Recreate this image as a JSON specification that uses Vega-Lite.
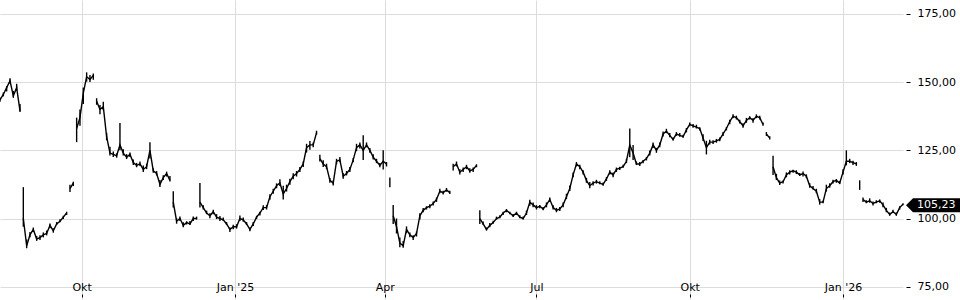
{
"$schema": "https://vega.github.io/schema/vega-lite/v6.json",
"width": 903, "height": 300,
"autosize": {"type": "none"},
"padding": {"left": 0, "top": 0, "right": 57, "bottom": 0},
"background": "white",
"config": {"view": {"stroke": null}, "font": "DejaVu Sans"},
"datasets": {
"px": [
{"d":"2024-08-13","lo":142.8,"hi":144.4,"c":143.5},
{"d":"2024-08-15","lo":144.8,"hi":146.2,"c":145.5},
{"d":"2024-08-17","lo":146.6,"hi":148.5,"c":148},
{"d":"2024-08-19","lo":149.4,"hi":151.4,"c":150.5},
{"d":"2024-08-21","lo":144.3,"hi":146.8,"c":145},
{"d":"2024-08-23","lo":147.1,"hi":149.4,"c":148},
{"d":"2024-08-25","lo":139.1,"hi":142,"c":139.5},
{"d":"2024-08-26"},
{"d":"2024-08-27","lo":97,"hi":111.5,"c":100},
{"d":"2024-08-29","lo":89.1,"hi":92.3,"c":90},
{"d":"2024-08-31","lo":93.1,"hi":95.1,"c":94},
{"d":"2024-09-02","lo":95.1,"hi":96.7,"c":96},
{"d":"2024-09-04","lo":91.8,"hi":93.6,"c":92.5},
{"d":"2024-09-06","lo":92.1,"hi":93.9,"c":93},
{"d":"2024-09-08","lo":93.1,"hi":94.9,"c":94},
{"d":"2024-09-10","lo":93.8,"hi":95.6,"c":94.5},
{"d":"2024-09-12","lo":96.4,"hi":98.2,"c":97.5},
{"d":"2024-09-14","lo":94.8,"hi":96.4,"c":95.5},
{"d":"2024-09-16","lo":97.6,"hi":98.7,"c":98},
{"d":"2024-09-18","lo":98.6,"hi":99.7,"c":99},
{"d":"2024-09-20","lo":99.8,"hi":101,"c":100.5},
{"d":"2024-09-22","lo":101.3,"hi":102.5,"c":102},
{"d":"2024-09-23"},
{"d":"2024-09-24","lo":109.7,"hi":112.4,"c":111},
{"d":"2024-09-26","lo":111.9,"hi":113.5,"c":113},
{"d":"2024-09-27"},
{"d":"2024-09-28","lo":128,"hi":137,"c":133},
{"d":"2024-09-30","lo":134,"hi":140,"c":137},
{"d":"2024-10-02","lo":142,"hi":148,"c":146},
{"d":"2024-10-04","lo":150.2,"hi":153.6,"c":152},
{"d":"2024-10-06","lo":150.1,"hi":152.6,"c":151},
{"d":"2024-10-08","lo":150.9,"hi":153.2,"c":152.5},
{"d":"2024-10-09"},
{"d":"2024-10-10","lo":141.7,"hi":144.1,"c":143},
{"d":"2024-10-12","lo":138.2,"hi":141.6,"c":140},
{"d":"2024-10-14","lo":139.7,"hi":142.8,"c":141},
{"d":"2024-10-16","lo":128.7,"hi":131.4,"c":130},
{"d":"2024-10-18","lo":123.1,"hi":126.3,"c":124},
{"d":"2024-10-20","lo":122.6,"hi":124.6,"c":123.5},
{"d":"2024-10-22","lo":122.3,"hi":123.9,"c":123},
{"d":"2024-10-24","lo":125,"hi":135,"c":127},
{"d":"2024-10-26","lo":123.1,"hi":125.4,"c":124},
{"d":"2024-10-28","lo":121.8,"hi":123.6,"c":122.5},
{"d":"2024-10-30","lo":122.6,"hi":124.2,"c":123.5},
{"d":"2024-11-01","lo":119.6,"hi":121.6,"c":120.5},
{"d":"2024-11-03","lo":118.8,"hi":120.4,"c":119.5},
{"d":"2024-11-05","lo":119.3,"hi":120.9,"c":120},
{"d":"2024-11-07","lo":117.1,"hi":119.4,"c":118},
{"d":"2024-11-09","lo":118.1,"hi":120.1,"c":119},
{"d":"2024-11-11","lo":122,"hi":128,"c":125},
{"d":"2024-11-13","lo":116.8,"hi":118.4,"c":117.5},
{"d":"2024-11-15","lo":115.8,"hi":117.4,"c":116.5},
{"d":"2024-11-17","lo":111.6,"hi":114.1,"c":112.5},
{"d":"2024-11-19","lo":114.1,"hi":115.9,"c":115},
{"d":"2024-11-21","lo":115.4,"hi":117.2,"c":116.5},
{"d":"2024-11-23","lo":113.6,"hi":115.6,"c":114},
{"d":"2024-11-24"},
{"d":"2024-11-25","lo":104,"hi":110,"c":106},
{"d":"2024-11-27","lo":98.1,"hi":100.1,"c":99},
{"d":"2024-11-29","lo":99.1,"hi":100.7,"c":100},
{"d":"2024-12-01","lo":96.8,"hi":98.6,"c":97.5},
{"d":"2024-12-03","lo":97.8,"hi":99,"c":98.5},
{"d":"2024-12-05","lo":97.6,"hi":99.1,"c":98},
{"d":"2024-12-07","lo":99.1,"hi":100.7,"c":100},
{"d":"2024-12-09","lo":99.6,"hi":100.7,"c":100},
{"d":"2024-12-10"},
{"d":"2024-12-11","lo":104,"hi":113,"c":106},
{"d":"2024-12-13","lo":103.3,"hi":104.9,"c":104},
{"d":"2024-12-15","lo":101.6,"hi":102.9,"c":102},
{"d":"2024-12-17","lo":100.1,"hi":101.9,"c":101},
{"d":"2024-12-19","lo":101.6,"hi":103.2,"c":102.5},
{"d":"2024-12-21","lo":99.8,"hi":101.6,"c":100.5},
{"d":"2024-12-23","lo":99.1,"hi":100.9,"c":100},
{"d":"2024-12-25","lo":99.1,"hi":100.4,"c":99.5},
{"d":"2024-12-27","lo":97.6,"hi":98.7,"c":98},
{"d":"2024-12-29","lo":95.1,"hi":96.7,"c":96},
{"d":"2024-12-31","lo":96.1,"hi":97.7,"c":97},
{"d":"2025-01-02","lo":96.3,"hi":97.9,"c":97},
{"d":"2025-01-04","lo":99.1,"hi":101.1,"c":100},
{"d":"2025-01-06","lo":98.8,"hi":100.4,"c":99.5},
{"d":"2025-01-08","lo":97.6,"hi":98.7,"c":98},
{"d":"2025-01-10","lo":95.3,"hi":96.7,"c":96},
{"d":"2025-01-12","lo":97.3,"hi":98.7,"c":98},
{"d":"2025-01-14","lo":99.8,"hi":101,"c":100.5},
{"d":"2025-01-16","lo":101.1,"hi":102.5,"c":102},
{"d":"2025-01-18","lo":103.1,"hi":104.9,"c":104},
{"d":"2025-01-20","lo":103.3,"hi":104.9,"c":104},
{"d":"2025-01-22","lo":106.9,"hi":108.9,"c":108},
{"d":"2025-01-24","lo":109.1,"hi":110.9,"c":110},
{"d":"2025-01-26","lo":111.1,"hi":112.9,"c":112},
{"d":"2025-01-28","lo":111.9,"hi":114.4,"c":113},
{"d":"2025-01-30","lo":107,"hi":112,"c":109},
{"d":"2025-02-01","lo":109.9,"hi":112.4,"c":111},
{"d":"2025-02-03","lo":112.4,"hi":114.6,"c":113.5},
{"d":"2025-02-05","lo":114.4,"hi":116.6,"c":115.5},
{"d":"2025-02-07","lo":115.4,"hi":117.4,"c":116.5},
{"d":"2025-02-09","lo":117.1,"hi":118.9,"c":118},
{"d":"2025-02-11","lo":118.9,"hi":120.9,"c":120},
{"d":"2025-02-13","lo":124.2,"hi":127.4,"c":126},
{"d":"2025-02-15","lo":125.2,"hi":128.4,"c":127},
{"d":"2025-02-17","lo":126.1,"hi":127.9,"c":127},
{"d":"2025-02-19","lo":130.8,"hi":132.2,"c":131.5},
{"d":"2025-02-20"},
{"d":"2025-02-21","lo":120.9,"hi":123.4,"c":122},
{"d":"2025-02-23","lo":118.9,"hi":121.4,"c":120},
{"d":"2025-02-25","lo":118.1,"hi":120.1,"c":119},
{"d":"2025-02-27","lo":113.1,"hi":114.9,"c":114},
{"d":"2025-03-01","lo":112.1,"hi":113.9,"c":113},
{"d":"2025-03-03","lo":119.9,"hi":121.9,"c":121},
{"d":"2025-03-05","lo":120.6,"hi":122.6,"c":121.5},
{"d":"2025-03-07","lo":114.6,"hi":116.6,"c":115.5},
{"d":"2025-03-09","lo":115.8,"hi":117.4,"c":116.5},
{"d":"2025-03-11","lo":117.1,"hi":118.9,"c":118},
{"d":"2025-03-13","lo":120.6,"hi":122.2,"c":121.5},
{"d":"2025-03-15","lo":124.7,"hi":127.4,"c":126},
{"d":"2025-03-17","lo":125.7,"hi":127.9,"c":127},
{"d":"2025-03-19","lo":121.5,"hi":130.5,"c":125},
{"d":"2025-03-21","lo":126.1,"hi":127.9,"c":127},
{"d":"2025-03-23","lo":124.1,"hi":125.9,"c":125},
{"d":"2025-03-25","lo":121.6,"hi":123.6,"c":122.5},
{"d":"2025-03-27","lo":120.3,"hi":121.9,"c":121},
{"d":"2025-03-29","lo":118.8,"hi":120.4,"c":119.5},
{"d":"2025-03-31","lo":118,"hi":125,"c":121},
{"d":"2025-04-02","lo":119.1,"hi":120.7,"c":120},
{"d":"2025-04-03"},
{"d":"2025-04-04","lo":111.5,"hi":115,"c":113},
{"d":"2025-04-05"},
{"d":"2025-04-06","lo":98,"hi":105,"c":101},
{"d":"2025-04-08","lo":94.5,"hi":100,"c":97},
{"d":"2025-04-10","lo":89.5,"hi":93,"c":91},
{"d":"2025-04-12","lo":89.3,"hi":91.8,"c":90},
{"d":"2025-04-14","lo":94.6,"hi":97.1,"c":96},
{"d":"2025-04-16","lo":93.1,"hi":94.9,"c":94},
{"d":"2025-04-18","lo":92.1,"hi":93.9,"c":93},
{"d":"2025-04-20","lo":93.4,"hi":95.2,"c":94.5},
{"d":"2025-04-22","lo":99.6,"hi":101.9,"c":101},
{"d":"2025-04-24","lo":102.3,"hi":103.9,"c":103},
{"d":"2025-04-26","lo":103.3,"hi":104.5,"c":104},
{"d":"2025-04-28","lo":103.8,"hi":105.2,"c":104.5},
{"d":"2025-04-30","lo":104.8,"hi":106.2,"c":105.5},
{"d":"2025-05-02","lo":106.1,"hi":107.7,"c":107},
{"d":"2025-05-04","lo":109.3,"hi":110.9,"c":110},
{"d":"2025-05-06","lo":108.8,"hi":110.2,"c":109.5},
{"d":"2025-05-08","lo":109.8,"hi":111.2,"c":110.5},
{"d":"2025-05-10","lo":109,"hi":110.2,"c":109.5},
{"d":"2025-05-11"},
{"d":"2025-05-12","lo":117.6,"hi":120.1,"c":119},
{"d":"2025-05-14","lo":119.1,"hi":120.9,"c":120},
{"d":"2025-05-16","lo":116.1,"hi":118.1,"c":117},
{"d":"2025-05-18","lo":117.1,"hi":118.7,"c":118},
{"d":"2025-05-20","lo":118.1,"hi":119.7,"c":119},
{"d":"2025-05-22","lo":116.8,"hi":118.4,"c":117.5},
{"d":"2025-05-24","lo":117.1,"hi":118.7,"c":118},
{"d":"2025-05-26","lo":118.8,"hi":119.9,"c":119.5},
{"d":"2025-05-27"},
{"d":"2025-05-28","lo":98,"hi":103,"c":100},
{"d":"2025-05-30","lo":97.6,"hi":98.9,"c":98},
{"d":"2025-06-01","lo":95.6,"hi":96.7,"c":96},
{"d":"2025-06-03","lo":96.8,"hi":98.4,"c":97.5},
{"d":"2025-06-05","lo":98.1,"hi":99.2,"c":98.5},
{"d":"2025-06-07","lo":99.6,"hi":100.7,"c":100},
{"d":"2025-06-09","lo":100.1,"hi":101.2,"c":100.5},
{"d":"2025-06-11","lo":101.3,"hi":102.5,"c":102},
{"d":"2025-06-13","lo":102.3,"hi":103.5,"c":103},
{"d":"2025-06-15","lo":101.6,"hi":102.5,"c":102},
{"d":"2025-06-17","lo":100.6,"hi":101.7,"c":101},
{"d":"2025-06-19","lo":101.3,"hi":102.5,"c":102},
{"d":"2025-06-21","lo":100.1,"hi":101.2,"c":100.5},
{"d":"2025-06-23","lo":99.6,"hi":100.7,"c":100},
{"d":"2025-06-25","lo":101.3,"hi":102.9,"c":102},
{"d":"2025-06-27","lo":104.7,"hi":106.9,"c":106},
{"d":"2025-06-29","lo":104.1,"hi":105.9,"c":105},
{"d":"2025-07-01","lo":103.3,"hi":104.9,"c":104},
{"d":"2025-07-03","lo":103.8,"hi":105,"c":104.5},
{"d":"2025-07-05","lo":103,"hi":104.2,"c":103.5},
{"d":"2025-07-07","lo":104.1,"hi":105.9,"c":105},
{"d":"2025-07-09","lo":106.1,"hi":107.7,"c":107},
{"d":"2025-07-11","lo":103.3,"hi":104.9,"c":104},
{"d":"2025-07-13","lo":102.3,"hi":103.9,"c":103},
{"d":"2025-07-15","lo":102.8,"hi":104.2,"c":103.5},
{"d":"2025-07-17","lo":104.1,"hi":105.9,"c":105},
{"d":"2025-07-19","lo":107.1,"hi":109.1,"c":108},
{"d":"2025-07-21","lo":110.1,"hi":112.1,"c":111},
{"d":"2025-07-23","lo":115.1,"hi":116.9,"c":116},
{"d":"2025-07-25","lo":119.1,"hi":120.7,"c":120},
{"d":"2025-07-27","lo":118.1,"hi":119.7,"c":119},
{"d":"2025-07-29","lo":116.1,"hi":117.7,"c":117},
{"d":"2025-07-31","lo":113.1,"hi":114.9,"c":114},
{"d":"2025-08-02","lo":111.1,"hi":113.4,"c":112},
{"d":"2025-08-04","lo":112.1,"hi":113.7,"c":113},
{"d":"2025-08-06","lo":112.8,"hi":114.2,"c":113.5},
{"d":"2025-08-08","lo":112.6,"hi":113.7,"c":113},
{"d":"2025-08-10","lo":112,"hi":113.2,"c":112.5},
{"d":"2025-08-12","lo":113.8,"hi":115.2,"c":114.5},
{"d":"2025-08-14","lo":116.1,"hi":117.7,"c":117},
{"d":"2025-08-16","lo":115.1,"hi":116.9,"c":116},
{"d":"2025-08-18","lo":117.1,"hi":118.7,"c":118},
{"d":"2025-08-20","lo":117.8,"hi":119,"c":118.5},
{"d":"2025-08-22","lo":118.6,"hi":119.7,"c":119},
{"d":"2025-08-24","lo":120.3,"hi":121.9,"c":121},
{"d":"2025-08-26","lo":122.5,"hi":133,"c":127},
{"d":"2025-08-28","lo":121.5,"hi":127,"c":124},
{"d":"2025-08-30","lo":119.6,"hi":120.9,"c":120},
{"d":"2025-09-01","lo":119.3,"hi":120.7,"c":120},
{"d":"2025-09-03","lo":120.3,"hi":121.5,"c":121},
{"d":"2025-09-05","lo":121.3,"hi":122.5,"c":122},
{"d":"2025-09-07","lo":123.1,"hi":124.9,"c":124},
{"d":"2025-09-09","lo":125.9,"hi":127.9,"c":127},
{"d":"2025-09-11","lo":124.1,"hi":125.9,"c":125},
{"d":"2025-09-13","lo":126.1,"hi":127.9,"c":127},
{"d":"2025-09-15","lo":130.1,"hi":131.9,"c":131},
{"d":"2025-09-17","lo":131.3,"hi":132.9,"c":132},
{"d":"2025-09-19","lo":129.8,"hi":131.4,"c":130.5},
{"d":"2025-09-21","lo":128.6,"hi":129.7,"c":129},
{"d":"2025-09-23","lo":130.3,"hi":131.7,"c":131},
{"d":"2025-09-25","lo":130,"hi":131.4,"c":130.5},
{"d":"2025-09-27","lo":129.6,"hi":130.7,"c":130},
{"d":"2025-09-29","lo":131.6,"hi":133.2,"c":132.5},
{"d":"2025-10-01","lo":133.8,"hi":135.2,"c":134.5},
{"d":"2025-10-03","lo":133.3,"hi":134.7,"c":134},
{"d":"2025-10-05","lo":133,"hi":134.4,"c":133.5},
{"d":"2025-10-07","lo":132.3,"hi":133.5,"c":133},
{"d":"2025-10-09","lo":128.4,"hi":130.9,"c":129.5},
{"d":"2025-10-11","lo":123.5,"hi":128.5,"c":126},
{"d":"2025-10-13","lo":127.1,"hi":128.9,"c":128},
{"d":"2025-10-15","lo":127.3,"hi":128.7,"c":128},
{"d":"2025-10-17","lo":127.8,"hi":129.2,"c":128.5},
{"d":"2025-10-19","lo":128.3,"hi":129.7,"c":129},
{"d":"2025-10-21","lo":130.3,"hi":131.7,"c":131},
{"d":"2025-10-23","lo":132.3,"hi":133.5,"c":133},
{"d":"2025-10-25","lo":134.6,"hi":136.2,"c":135.5},
{"d":"2025-10-27","lo":136.8,"hi":138.2,"c":137.5},
{"d":"2025-10-29","lo":136.3,"hi":137.7,"c":137},
{"d":"2025-10-31","lo":134.8,"hi":136.2,"c":135.5},
{"d":"2025-11-02","lo":133.3,"hi":134.9,"c":134},
{"d":"2025-11-04","lo":135.1,"hi":136.9,"c":136},
{"d":"2025-11-06","lo":136.3,"hi":137.5,"c":137},
{"d":"2025-11-08","lo":135.1,"hi":136.9,"c":136},
{"d":"2025-11-10","lo":136.8,"hi":138.2,"c":137.5},
{"d":"2025-11-12","lo":136.3,"hi":137.7,"c":137},
{"d":"2025-11-14","lo":134,"hi":135.2,"c":134.5},
{"d":"2025-11-15"},
{"d":"2025-11-16","lo":130.3,"hi":131.7,"c":131},
{"d":"2025-11-18","lo":129,"hi":130.2,"c":129.5},
{"d":"2025-11-19"},
{"d":"2025-11-20","lo":116,"hi":123,"c":119},
{"d":"2025-11-22","lo":114.1,"hi":116.4,"c":115},
{"d":"2025-11-24","lo":112.3,"hi":113.9,"c":113},
{"d":"2025-11-26","lo":112.8,"hi":113.9,"c":113.5},
{"d":"2025-11-28","lo":115.1,"hi":116.9,"c":116},
{"d":"2025-11-30","lo":116.1,"hi":117.7,"c":117},
{"d":"2025-12-02","lo":116.8,"hi":117.9,"c":117.5},
{"d":"2025-12-04","lo":116.3,"hi":117.7,"c":117},
{"d":"2025-12-06","lo":115.6,"hi":116.7,"c":116},
{"d":"2025-12-08","lo":115.4,"hi":117.2,"c":116.5},
{"d":"2025-12-10","lo":114.8,"hi":116.2,"c":115.5},
{"d":"2025-12-12","lo":111.3,"hi":112.9,"c":112},
{"d":"2025-12-14","lo":110.6,"hi":111.9,"c":111},
{"d":"2025-12-16","lo":109.3,"hi":110.9,"c":110},
{"d":"2025-12-18","lo":105.1,"hi":107.1,"c":106},
{"d":"2025-12-20","lo":105.6,"hi":106.5,"c":106},
{"d":"2025-12-22","lo":109.9,"hi":112.4,"c":111},
{"d":"2025-12-24","lo":111.3,"hi":112.9,"c":112},
{"d":"2025-12-26","lo":112.8,"hi":114.2,"c":113.5},
{"d":"2025-12-28","lo":113.1,"hi":114.5,"c":114},
{"d":"2025-12-30","lo":112.6,"hi":113.7,"c":113},
{"d":"2026-01-01","lo":116.1,"hi":118.1,"c":117},
{"d":"2026-01-03","lo":119.5,"hi":125,"c":121},
{"d":"2026-01-05","lo":120.3,"hi":121.9,"c":121},
{"d":"2026-01-07","lo":119.6,"hi":121.2,"c":120.5},
{"d":"2026-01-09","lo":119.3,"hi":120.7,"c":120},
{"d":"2026-01-10"},
{"d":"2026-01-11","lo":110.5,"hi":114,"c":112},
{"d":"2026-01-12"},
{"d":"2026-01-13","lo":106.1,"hi":107.7,"c":107},
{"d":"2026-01-15","lo":105.6,"hi":106.7,"c":106},
{"d":"2026-01-17","lo":105.8,"hi":107.4,"c":106.5},
{"d":"2026-01-19","lo":104.8,"hi":106.2,"c":105.5},
{"d":"2026-01-21","lo":105.6,"hi":106.7,"c":106},
{"d":"2026-01-23","lo":105.8,"hi":107,"c":106.5},
{"d":"2026-01-25","lo":104.1,"hi":105.9,"c":105},
{"d":"2026-01-27","lo":102.3,"hi":103.9,"c":103},
{"d":"2026-01-29","lo":101,"hi":102.2,"c":101.5},
{"d":"2026-01-31","lo":102,"hi":103.2,"c":102.5},
{"d":"2026-02-02","lo":101,"hi":102.2,"c":101.5},
{"d":"2026-02-04","lo":103.3,"hi":104.5,"c":104},
{"d":"2026-02-06","lo":104.9,"hi":105.6,"c":105.23}
],
"last": [{"d":"2026-02-06","v":105.23,"t":"105,23"}]
},
"layer": [
{
"data": {"name": "px"},
"mark": {"type": "rule", "color": "#000", "strokeWidth": 1.4},
"encoding": {
"x": {"field": "d", "type": "temporal",
"scale": {"domain": [{"year": 2024, "month": 8, "date": 13}, {"year": 2026, "month": 2, "date": 6}], "nice": false},
"axis": {"orient": "bottom", "title": null,
"values": [{"year": 2024, "month": 10, "date": 1}, {"year": 2025, "month": 1, "date": 1}, {"year": 2025, "month": 4, "date": 1}, {"year": 2025, "month": 7, "date": 1}, {"year": 2025, "month": 10, "date": 1}, {"year": 2026, "month": 1, "date": 1}],
"labelExpr": "month(datum.value)==0 ? \"Jan '\" + timeFormat(datum.value, '%y') : (month(datum.value)==3 ? 'Apr' : (month(datum.value)==6 ? 'Jul' : 'Okt'))",
"domain": false, "ticks": true, "tickSize": -3, "tickColor": "#000", "offset": -3,
"labelPadding": -7, "labelBaseline": "middle", "labelAlign": "center",
"labelFontSize": 11, "labelColor": "#000", "labelFont": "DejaVu Sans",
"grid": true, "gridColor": "#dcdcdc", "gridWidth": 1}},
"y": {"field": "lo", "type": "quantitative",
"scale": {"domain": [70.12, 180.13], "nice": false, "zero": false},
"axis": {"orient": "right", "title": null, "values": [75, 100, 125, 150, 175],
"labelExpr": "replace(format(datum.value, '.2f'), '.', ',')",
"domain": false, "ticks": true, "tickSize": 4, "tickColor": "#000", "offset": 3,
"labelPadding": 7, "labelFontSize": 11, "labelColor": "#000", "labelFont": "DejaVu Sans",
"grid": true, "gridColor": "#dcdcdc", "gridWidth": 1}},
"y2": {"field": "hi"}
}
},
{
"data": {"name": "px"},
"mark": {"type": "line", "color": "#000", "strokeWidth": 1.4},
"encoding": {
"x": {"field": "d", "type": "temporal"},
"y": {"field": "c", "type": "quantitative"}
}
},
{
"data": {"name": "last"},
"mark": {"type": "point", "shape": "M0.43,0L1.43,-1L8.3,-1L8.3,1L1.43,1Z", "size": 196, "filled": true, "color": "#000", "opacity": 1, "strokeWidth": 0, "yOffset": 1},
"encoding": {
"x": {"field": "d", "type": "temporal"},
"y": {"field": "v", "type": "quantitative"}
}
},
{
"data": {"name": "last"},
"mark": {"type": "text", "align": "left", "baseline": "middle", "dx": 14, "dy": 1, "color": "#fff", "fontSize": 11, "font": "DejaVu Sans"},
"encoding": {
"x": {"field": "d", "type": "temporal"},
"y": {"field": "v", "type": "quantitative"},
"text": {"field": "t"}
}
}
]
}
